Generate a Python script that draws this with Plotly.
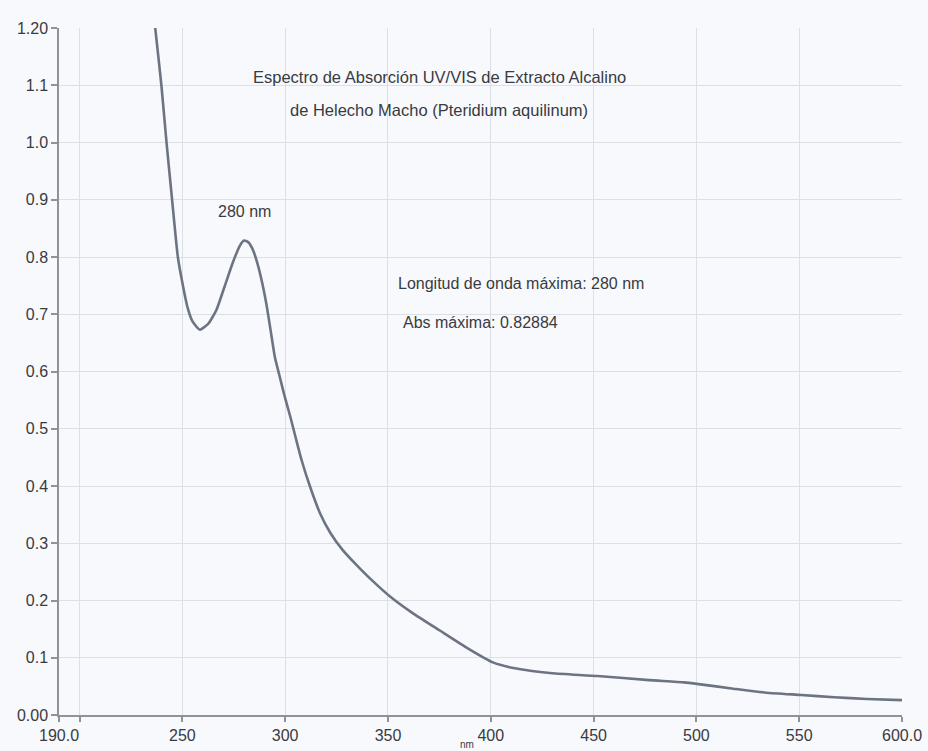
import plotly.graph_objects as go

# UV/VIS absorption spectrum of the alkaline extract (wavelength in nm, absorbance)
wavelength_nm = [
    235.6, 236.8, 239.8, 242.3, 245, 247.8, 250, 252.5, 255, 258.5,
    262.5, 266.5, 270.5, 274.5, 278, 280, 282, 284, 286.5, 289,
    291, 293, 295, 297, 299.5, 302.5, 305, 308, 312, 317,
    322, 328, 335, 342, 351, 362, 375, 389, 401, 411,
    420, 430, 452, 477, 494, 501, 518, 534, 551, 567,
    583, 600,
]
absorbance = [
    1.24, 1.20, 1.10, 1.00, 0.90, 0.80, 0.755, 0.712, 0.687, 0.673,
    0.683, 0.707, 0.748, 0.790, 0.820, 0.82884, 0.826, 0.815, 0.789, 0.752,
    0.715, 0.670, 0.625, 0.596, 0.560, 0.521, 0.486, 0.445, 0.400, 0.352,
    0.318, 0.288, 0.261, 0.236, 0.207, 0.178, 0.148, 0.116, 0.092, 0.082,
    0.077, 0.073, 0.068, 0.061, 0.057, 0.054, 0.046, 0.039, 0.035, 0.031,
    0.028, 0.026,
]

peak_nm = 280
peak_abs = 0.82884

x_tickvals = [190, 200, 250, 300, 350, 400, 450, 500, 550, 600]
x_ticktext = ["190.0", "", "250", "300", "350", "400", "450", "500", "550", "600.0"]
y_tickvals = [0.0, 0.1, 0.2, 0.3, 0.4, 0.5, 0.6, 0.7, 0.8, 0.9, 1.0, 1.1, 1.2]
y_ticktext = ["0.00", "0.1", "0.2", "0.3", "0.4", "0.5", "0.6", "0.7", "0.8",
              "0.9", "1.0", "1.1", "1.20"]

title_lines = [
    "Espectro de Absorción UV/VIS de Extracto Alcalino",
    "de Helecho Macho (Pteridium aquilinum)",
]
x_unit = "nm"

text_color = "#383b41"
font_family = "Liberation Sans, Arial, sans-serif"
bg = "#f8f9fc"

fig = go.Figure()
fig.add_trace(go.Scatter(
    x=wavelength_nm, y=absorbance, mode="lines",
    line=dict(color="#6c7483", width=2.6, shape="spline", smoothing=0.5),
    showlegend=False, hoverinfo="x+y",
))

annotations = [
    dict(x=375, y=1.114, text=title_lines[0], xanchor="center", yanchor="middle", size=16.5),
    dict(x=375, y=1.057, text=title_lines[1], xanchor="center", yanchor="middle", size=16.5),
    dict(x=peak_nm, y=0.88, text=f"{peak_nm} nm", xanchor="center", yanchor="middle", size=16),
    dict(x=353.8, y=0.753, text=f"Longitud de onda máxima: {peak_nm} nm",
         xanchor="left", yanchor="middle", size=16),
    dict(x=356.3, y=0.685, text=f"Abs máxima: {peak_abs}",
         xanchor="left", yanchor="middle", size=16),
]
for a in annotations:
    size = a.pop("size")
    a.update(showarrow=False, font=dict(size=size, color=text_color, family=font_family))

# wavelength unit, small, at the very bottom of the page beside the "400" label
annotations.append(dict(
    x=0.484, y=-0.0525, xref="paper", yref="paper", text=x_unit,
    xanchor="center", yanchor="bottom", showarrow=False, borderpad=0,
    font=dict(size=10, color=text_color, family=font_family),
))

fig.update_layout(
    width=928, height=751,
    margin=dict(l=59, r=26, t=28, b=36),
    paper_bgcolor=bg, plot_bgcolor=bg,
    font=dict(family=font_family, size=16, color=text_color),
    annotations=annotations,
    xaxis=dict(
        range=[190, 600], tickmode="array", tickvals=x_tickvals, ticktext=x_ticktext,
        showgrid=True, gridcolor="#dcdfe6", gridwidth=1,
        showline=True, linecolor="#8d929b", linewidth=1.5,
        ticks="outside", ticklen=5, tickcolor="#8d929b", tickwidth=1.5,
        zeroline=False, automargin=False,
    ),
    yaxis=dict(
        range=[0, 1.2], tickmode="array", tickvals=y_tickvals, ticktext=y_ticktext,
        showgrid=True, gridcolor="#dcdfe6", gridwidth=1,
        showline=True, linecolor="#8d929b", linewidth=1.5,
        ticks="outside", ticklen=6, tickcolor="#8d929b", tickwidth=1.5,
        zeroline=False, automargin=False,
    ),
)

fig.write_html("out.html")
